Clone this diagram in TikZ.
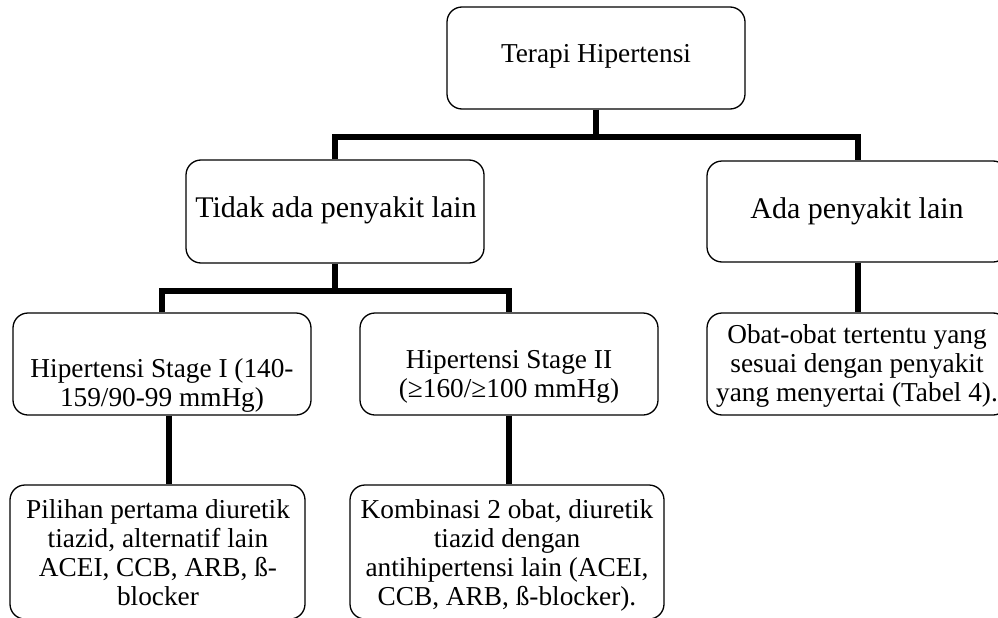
\documentclass[tikz,border=0pt]{standalone}
\usepackage{fontspec}
\setmainfont{Liberation Serif}
\newcommand\mlines[1]{\vtop{\baselineskip=29pt\halign{\hfil##\hfil\cr#1\crcr}}}
\begin{document}
\begin{tikzpicture}[x=1pt,y=-1pt,
  box/.style={draw,line width=1.3pt,rounded corners=15pt,inner sep=0pt},
  conn/.style={line width=6pt},
  txt/.style={anchor=base,inner sep=0pt,font=\fontsize{27.3}{29}\selectfont},
  big/.style={txt,font=\fontsize{30}{33}\selectfont}]
\useasboundingbox (0,0) rectangle (998,618);
\clip (0,0) rectangle (998,618);
% boxes
\node[box,minimum width=298pt,minimum height=102pt] (root) at (596,58) {};
\node[box,minimum width=298pt,minimum height=103pt] (tidak) at (335,211.5) {};
\node[box,minimum width=301pt,minimum height=101pt] (ada) at (857.5,211.5) {};
\node[box,minimum width=301pt,minimum height=102pt] (obat) at (857.5,364) {};
\node[box,minimum width=298pt,minimum height=102pt] (s1) at (162,364) {};
\node[box,minimum width=298pt,minimum height=102pt] (s2) at (509,364) {};
\node[box,minimum width=295pt,minimum height=134pt] (p1) at (157.5,552) {};
\node[box,minimum width=314pt,minimum height=134pt] (k) at (507,552) {};
% texts
\node[txt] (troot) at (596,63) {Terapi Hipertensi};
\node[big] (ttidak) at (336,217) {Tidak ada penyakit lain};
\node[big] (tada) at (857,218) {Ada penyakit lain};
\node[txt] (tobat) at (857,343) {\mlines{Obat-obat tertentu yang\cr sesuai dengan penyakit\cr yang menyertai (Tabel 4).}};
\node[txt] (ts1) at (162,377) {\mlines{Hipertensi Stage I (140-\cr 159/90-99 mmHg)}};
\node[txt] (ts2) at (509,368) {\mlines{Hipertensi Stage II\cr (≥160/≥100 mmHg)}};
\node[txt] (tp1) at (158,518) {\mlines{Pilihan pertama diuretik\cr tiazid, alternatif lain\cr ACEI, CCB, ARB, ß-\cr blocker}};
\node[txt] (tk) at (507,518) {\mlines{Kombinasi 2 obat, diuretik\cr tiazid dengan\cr antihipertensi lain (ACEI,\cr CCB, ARB, ß-blocker).}};
% connectors
\coordinate (b1) at (0,137);
\coordinate (b2) at (0,291);
\coordinate (c1) at (169,0);
\draw[conn] (root.south) -- (root.south |- b1);
\draw[conn] (tidak.north) -- (tidak.north |- b1) -- (ada.north |- b1) -- (ada.north);
\draw[conn] (tidak.south) -- (tidak.south |- b2);
\draw[conn] (s1.north) -- (s1.north |- b2) -- (s2.north |- b2) -- (s2.north);
\draw[conn] (ada.south) -- (obat.north);
\draw[conn] (s1.south -| c1) -- (p1.north -| c1);
\draw[conn] (s2.south) -- (s2.south |- k.north);
\end{tikzpicture}
\end{document}
